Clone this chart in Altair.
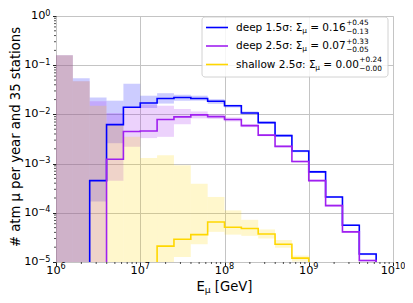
import altair as alt
import pandas as pd

# ---------------- data ----------------
edge_exp = [6.0, 6.2, 6.4, 6.6, 6.8, 7.0, 7.2, 7.4, 7.6, 7.8, 8.0,
            8.2, 8.4, 8.6, 8.8, 9.0, 9.2, 9.4, 9.6, 9.8, 10.0]

series_names = ["deep 1.5σ", "deep 2.5σ", "shallow 2.5σ"]
series_colors = ["#0000ff", "#a020f0", "#ffd700"]
sum_vals = ["0.16", "0.07", "0.00"]
sum_plus = ["+0.45", "+0.33", "+0.24"]
sum_minus = ["−0.13", "−0.05", "−0.00"]

# None = empty bin (no line); 0 = band reaches down to zero
deep15 = [None, None, 4.5e-4, 6.2e-3, 1.4e-2, 1.7e-2, 2.1e-2, 2.2e-2, 2.1e-2, 1.85e-2,
          1.5e-2, 1.07e-2, 6.8e-3, 3.7e-3, 1.8e-3, 6.8e-4, 2.1e-4, 5.6e-5, 1.45e-5, None]
deep15_lo = [0, 0, 1.7e-4, 2.6e-3, 1.35e-2, 1.35e-2, 1.66e-2, 1.9e-2, 1.9e-2, 1.64e-2,
             1.38e-2, 1.0e-2, 6.5e-3, 3.55e-3, 1.7e-3, 6.5e-4, 2.0e-4, 5.4e-5, 1.38e-5, None]
deep15_hi = [0.16, 0.054, 0.022, 0.019, 0.042, 0.024, 0.027, 0.025, 0.024, 0.0204,
             0.0158, 0.0115, 7.2e-3, 3.9e-3, 1.86e-3, 7.2e-4, 2.2e-4, 5.9e-5, 1.5e-5, None]

deep25 = [None, None, None, 1.23e-3, 4.5e-3, 4.6e-3, 7.9e-3, 8.9e-3, 9.8e-3, 9.0e-3,
          7.9e-3, 5.9e-3, 3.8e-3, 2.24e-3, 1.1e-3, 4.5e-4, 1.4e-4, 4.1e-5, 1.07e-5, None]
deep25_lo = [0, 0, 0, 4.5e-4, 2.2e-3, 3.3e-3, 3.5e-3, 6.3e-3, 8.3e-3, 8.1e-3,
             7.2e-3, 5.5e-3, 3.6e-3, 2.14e-3, 1.05e-3, 4.3e-4, 1.35e-4, 3.9e-5, 1.02e-5, None]
deep25_hi = [0.16, 0.047, 0.0185, 0.0107, 0.0135, 0.0158, 0.015, 0.0129, 0.0115, 0.0102,
             8.7e-3, 6.3e-3, 4.0e-3, 2.34e-3, 1.15e-3, 4.7e-4, 1.48e-4, 4.3e-5, 1.12e-5, None]

shallow25 = [None, None, None, None, None, None, 2.1e-5, 2.9e-5, 3.6e-5, 6.5e-5,
             5.1e-5, 4.8e-5, 3.7e-5, 2.3e-5, 1.2e-5, None, None, None, None, None]
shallow25_lo = [0, 0, 0, 0, 0, 0, 0, 1.26e-5, 2.3e-5, 4.1e-5,
                3.6e-5, 3.4e-5, 3.0e-5, 1.95e-5, 1.02e-5, None, None, None, None, None]
shallow25_hi = [0.16, 0.047, 0.015, 6.3e-3, 3.5e-3, 1.3e-3, 1.48e-3, 9.3e-4, 3.9e-4, 2.1e-4,
                1.12e-4, 7.2e-5, 4.6e-5, 2.8e-5, 1.35e-5, None, None, None, None, None]

x_tick_vals = [1e6, 1e7, 1e8, 1e9, 1e10]
x_tick_exps = ["6", "7", "8", "9", "10"]
y_tick_vals = [1e-5, 1e-4, 1e-3, 1e-2, 1e-1, 1]
y_tick_exps = ["−5", "−4", "−3", "−2", "−1", "0"]
tick_base = "10"

x_title_parts = ["E", "μ", "[GeV]"]
y_title = "# atm μ per year and 35 stations"

# ---------------- build tables ----------------
FLOOR = 1e-7  # stands for zero (below the axis), clamped by the scale
edges = [10 ** e for e in edge_exp]
lines_v = [deep15, deep25, shallow25]
lows = [deep15_lo, deep25_lo, shallow25_lo]
highs = [deep15_hi, deep25_hi, shallow25_hi]

band_rows = []
line_rows = []
for s, name in enumerate(series_names):
    for i in range(len(edges) - 1):
        lo, hi = lows[s][i], highs[s][i]
        if hi is None:
            continue
        band_rows.append(dict(series=name, x0=edges[i], x1=edges[i + 1],
                              lo=lo if lo > 0 else FLOOR, hi=hi))
    vals = lines_v[s]
    idx = [i for i, v in enumerate(vals) if v is not None]
    a, b = idx[0], idx[-1]
    k = 0
    line_rows.append(dict(series=name, x=edges[a], y=FLOOR, k=k)); k += 1
    for i in range(a, b + 1):
        line_rows.append(dict(series=name, x=edges[i], y=vals[i], k=k)); k += 1
    line_rows.append(dict(series=name, x=edges[b + 1], y=vals[b], k=k)); k += 1
    line_rows.append(dict(series=name, x=edges[b + 1], y=FLOOR, k=k)); k += 1

bands = pd.DataFrame(band_rows)
lines = pd.DataFrame(line_rows)

TOP = 8            # plot top offset below the page margin
W, H = 337, 246
FONT = "DejaVu Sans"

xscale = alt.Scale(type="log", domain=[1e6, 1e10], nice=False, clamp=True)
yscale = alt.Scale(type="log", domain=[1e-5, 1], nice=False, clamp=True)
cscale = alt.Scale(domain=series_names, range=series_colors)

axis_common = dict(title=None, grid=True, gridColor="#c4c4c4", gridWidth=1,
                   domain=False, tickSize=3.5, tickColor="#222", labels=False)
xaxis = alt.Axis(values=x_tick_vals, **axis_common)
yaxis = alt.Axis(values=y_tick_vals, **axis_common)

band_layer = alt.Chart(bands).mark_rect(opacity=0.2, strokeWidth=0).encode(
    x=alt.X("x0:Q", scale=xscale, axis=xaxis),
    x2="x1:Q",
    y=alt.Y("lo:Q", scale=yscale, axis=yaxis),
    y2="hi:Q",
    color=alt.Color("series:N", scale=cscale, legend=None),
    order=alt.Order("series:N"),
)

line_layer = alt.Chart(lines).mark_line(interpolate="step-after", strokeWidth=1.6).encode(
    x=alt.X("x:Q", scale=xscale),
    y=alt.Y("y:Q", scale=yscale),
    color=alt.Color("series:N", scale=cscale, legend=None),
    order="k:Q",
)

# minor ticks
xminor = [m * 10 ** e for e in range(6, 10) for m in range(2, 10)]
yminor = [m * 10.0 ** e for e in range(-5, 0) for m in range(2, 10)]
xminor_layer = alt.Chart(pd.DataFrame({"v": xminor})).mark_rule(color="#222", strokeWidth=0.8).encode(
    x=alt.X("v:Q", scale=xscale), y=alt.value(H), y2=alt.value(H + 2))
yminor_layer = alt.Chart(pd.DataFrame({"v": yminor})).mark_rule(color="#222", strokeWidth=0.8).encode(
    y=alt.Y("v:Q", scale=yscale), x=alt.value(-2), x2=alt.value(0))

one = alt.Data(values=[{}])

# character widths (em) for DejaVu Sans, used to lay out sub/superscripts
CW = {' ': .318, '.': .318, ':': .337, 'd': .635, 'e': .615, 'p': .635, 's': .521,
      'h': .634, 'a': .613, 'l': .278, 'o': .612, 'w': .818, '=': .838, '+': .838,
      '−': .838, 'σ': .603, 'Σ': .632, 'μ': .636, 'E': .632, '[': .390, ']': .390,
      'G': .775, 'V': .684}


def tw(t, fs):
    return sum(CW.get(c, .636) for c in t) * fs


def txt(s, x, y, fs, align="left", dy=0, angle=None, color="black"):
    kw = dict(font=FONT, fontSize=fs, align=align, baseline="middle", dy=dy, color=color)
    if angle is not None:
        kw["angle"] = angle
    return alt.Chart(one).mark_text(**kw).encode(
        x=alt.value(x), y=alt.value(y), text=alt.value(s))


layers = [band_layer, line_layer, xminor_layer, yminor_layer]

# tick labels with superscript exponents
TK = 11.3
SK = TK * 0.72
wb = tw(tick_base, TK)
for v, e in zip(x_tick_vals, x_tick_exps):
    we = tw(e, SK)
    tot = wb + we
    d = pd.DataFrame({"v": [v]})
    layers.append(alt.Chart(d).mark_text(font=FONT, fontSize=TK, align="left", baseline="middle",
                                         dx=-tot / 2, color="black").encode(
        x=alt.X("v:Q", scale=xscale), y=alt.value(H + 9), text=alt.value(tick_base)))
    layers.append(alt.Chart(d).mark_text(font=FONT, fontSize=SK, align="left", baseline="middle",
                                         dx=-tot / 2 + wb, dy=-4.2, color="black").encode(
        x=alt.X("v:Q", scale=xscale), y=alt.value(H + 9), text=alt.value(e)))
for v, e in zip(y_tick_vals, y_tick_exps):
    we = tw(e, SK)
    d = pd.DataFrame({"v": [v]})
    layers.append(alt.Chart(d).mark_text(font=FONT, fontSize=TK, align="right", baseline="middle",
                                         dx=-we, color="black").encode(
        y=alt.Y("v:Q", scale=yscale), x=alt.value(-5.5), text=alt.value(tick_base)))
    layers.append(alt.Chart(d).mark_text(font=FONT, fontSize=SK, align="right", baseline="middle",
                                         dy=-2.5, color="black").encode(
        y=alt.Y("v:Q", scale=yscale), x=alt.value(-5.5), text=alt.value(e)))

# legend
LFS = 10.5
LY = 10 - (8 + TOP)  # offset between reference pixel rows and plot coords
layers.append(alt.Chart(one).mark_rect(fill="white", opacity=0.85, stroke="#cccccc",
                                       strokeWidth=1, cornerRadius=3).encode(
    x=alt.value(146), x2=alt.value(332), y=alt.value(5 + LY + 2), y2=alt.value(65 + LY + 2)))
row_y = [15.5 + LY + 2, 34 + LY + 2, 52.5 + LY + 2]
for r, name in enumerate(series_names):
    yy = row_y[r]
    layers.append(alt.Chart(one).mark_rule(color=series_colors[r], strokeWidth=1.6).encode(
        x=alt.value(150), x2=alt.value(172), y=alt.value(yy)))
    x0 = 180
    pre = f"{name}: Σ"
    layers.append(txt(pre, x0, yy, LFS))
    x1 = x0 + tw(pre, LFS)
    layers.append(txt("μ", x1, yy, LFS * 0.7, dy=3))
    x2 = x1 + tw("μ", LFS * 0.7) + tw(" ", LFS)
    mid = f"= {sum_vals[r]}"
    layers.append(txt(mid, x2, yy, LFS))
    x3 = x2 + tw(mid, LFS) + 0.5
    layers.append(txt(sum_plus[r], x3, yy, LFS * 0.7, dy=-4.3))
    layers.append(txt(sum_minus[r], x3, yy, LFS * 0.7, dy=4.3))

# axis titles
TFS = 13.2
layers.append(txt(y_title, -40.5, 137 - (8 + TOP), TFS, align="center", angle=270))
wE = tw(x_title_parts[0], TFS)
wm = tw(x_title_parts[1], TFS * 0.7)
wsp = tw(" ", TFS)
wG = tw(x_title_parts[2], TFS)
wtot = wE + wm + wsp + wG
xs = (224.5 - 56) - wtot / 2
ty = 286.5 - (8 + TOP)
layers.append(txt(x_title_parts[0], xs, ty, TFS))
layers.append(txt(x_title_parts[1], xs + wE, ty, TFS * 0.7, dy=3.5))
layers.append(txt(x_title_parts[2], xs + wE + wm + wsp, ty, TFS))

chart = alt.layer(*layers).properties(
    width=W, height=H,
    autosize=alt.AutoSizeParams(type="none"),
    padding={"left": 48, "top": TOP, "right": 12, "bottom": 33},
).configure_view(stroke="#666666", strokeWidth=1).configure(font=FONT)

chart.save("out.html", embed_options={"renderer": "svg", "actions": False})
